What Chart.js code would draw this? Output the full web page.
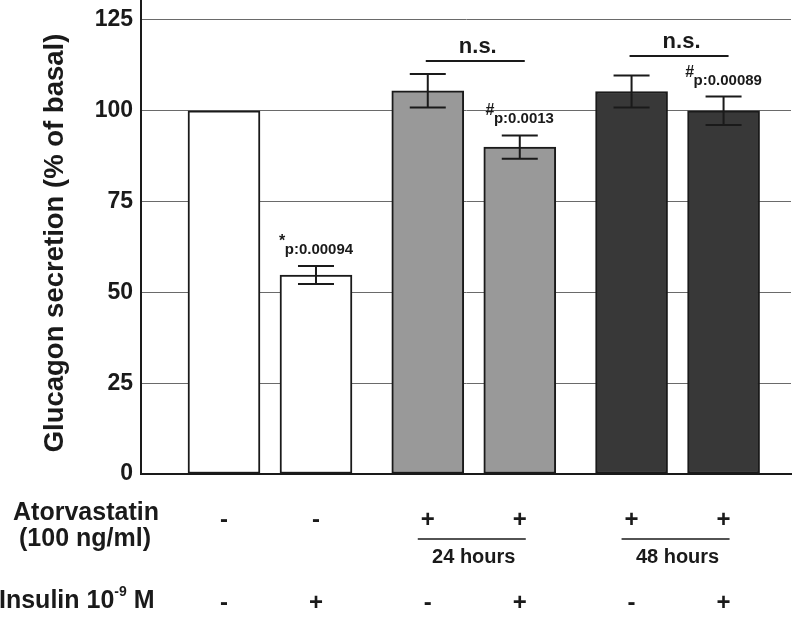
<!DOCTYPE html>
<html>
<head>
<meta charset="utf-8">
<script src="https://cdn.jsdelivr.net/npm/chart.js@4"></script>
<style>
  html, body { margin: 0; padding: 0; background: #ffffff; }
  #wrap { width: 793px; height: 618px; position: relative; }
</style>
</head>
<body>
<div id="wrap"><canvas id="c" width="793" height="618"></canvas></div>
<script>
// ---- data ----
const categories = ['basal', 'insulin', 'atorva 24h', 'atorva 24h + insulin', 'atorva 48h', 'atorva 48h + insulin'];
const groupIndex = [0, 0, 1, 1, 2, 2];
const secretion = [100, 54.8, 105.5, 90, 105.3, 100];
const sem = [0, 2.5, 4.6, 3.2, 4.4, 3.9];
const pSymbols = ['', '*', '', '#', '', '#'];
const pTexts = ['', 'p:0.00094', '', 'p:0.0013', '', 'p:0.00089'];
const nsPairs = [[2, 3], [4, 5]];
const nsLevels = [113.7, 115.1];
const atorvastatinSigns = ['-', '-', '+', '+', '+', '+'];
const insulinSigns = ['-', '+', '-', '+', '-', '+'];
const durationLabels = ['24 hours', '48 hours'];
const durationGroups = [[2, 3], [4, 5]];
const yTicks = [0, 25, 50, 75, 100, 125];
const yTitle = 'Glucagon secretion (% of basal)';

// ---- styles ----
const FONT = "'Liberation Sans', Arial, Helvetica, sans-serif";
const INK = '#1a1a1a';
const fills = ['#ffffff', '#ffffff', '#999999', '#999999', '#383838', '#383838'];
const GROUP_GAP = 0.215;
const positions = categories.map((c, i) => i + groupIndex[i] * GROUP_GAP);

const overlay = {
  id: 'overlay',
  afterDatasetsDraw(chart) {
    const ctx = chart.ctx;
    const xs = chart.scales.x, ys = chart.scales.y;
    const px = i => xs.getPixelForValue(positions[i]);
    ctx.save();
    ctx.strokeStyle = INK;
    ctx.fillStyle = INK;
    ctx.lineWidth = 2;
    // error bars
    secretion.forEach((v, i) => {
      if (!sem[i]) return;
      const x = px(i);
      const t = ys.getPixelForValue(v + sem[i]);
      const b = ys.getPixelForValue(v - sem[i]);
      ctx.beginPath();
      ctx.moveTo(x, t); ctx.lineTo(x, b);
      ctx.moveTo(x - 18, t); ctx.lineTo(x + 18, t);
      ctx.moveTo(x - 18, b); ctx.lineTo(x + 18, b);
      ctx.stroke();
    });
    // p-value labels
    ctx.textBaseline = 'alphabetic';
    pTexts.forEach((txt, i) => {
      if (!txt) return;
      const x = px(i);
      const capTop = ys.getPixelForValue(secretion[i] + sem[i]);
      const base = capTop - 12;
      ctx.font = 'bold 15px ' + FONT;
      const sw = ctx.measureText(pSymbols[i]).width;
      const tw = ctx.measureText(txt).width;
      const x0 = x - (sw + tw) / 2;
      ctx.textAlign = 'left';
      ctx.font = 'bold 16px ' + FONT;
      ctx.fillText(pSymbols[i], x0, base - 8);
      ctx.font = 'bold 15px ' + FONT;
      ctx.fillText(txt, x0 + sw, base);
    });
    // n.s. brackets
    nsPairs.forEach((pr, k) => {
      const a = px(pr[0]), b = px(pr[1]);
      const y = ys.getPixelForValue(nsLevels[k]);
      ctx.lineWidth = 2;
      ctx.beginPath();
      ctx.moveTo(a - 2, y); ctx.lineTo(b + 5, y);
      ctx.stroke();
      ctx.font = 'bold 22px ' + FONT;
      ctx.textAlign = 'center';
      ctx.fillText('n.s.', (a + b) / 2 + 4, y - 8);
    });
    ctx.restore();
  },
  afterDraw(chart) {
    const ctx = chart.ctx;
    const xs = chart.scales.x, ys = chart.scales.y;
    const px = i => xs.getPixelForValue(positions[i]);
    ctx.save();
    ctx.fillStyle = INK;
    ctx.strokeStyle = INK;
    // y axis title
    ctx.save();
    ctx.translate(55, (ys.top + ys.bottom) / 2 + 6);
    ctx.rotate(-Math.PI / 2);
    ctx.font = 'bold 27.5px ' + FONT;
    ctx.textAlign = 'center';
    ctx.textBaseline = 'middle';
    ctx.fillText(yTitle, 0, 0);
    ctx.restore();
    // row labels
    ctx.font = 'bold 25px ' + FONT;
    ctx.textAlign = 'center';
    ctx.textBaseline = 'alphabetic';
    ctx.fillText('Atorvastatin', 86, 520);
    ctx.fillText('(100 ng/ml)', 85, 546);
    ctx.textAlign = 'left';
    let x = -1;
    const parts = [['Insulin 10', 25, 0], ['-9', 14, -12], [' M', 25, 0]];
    parts.forEach(p => {
      ctx.font = 'bold ' + p[1] + 'px ' + FONT;
      ctx.fillText(p[0], x, 608 + p[2]);
      x += ctx.measureText(p[0]).width;
    });
    // signs
    ctx.font = 'bold 24px ' + FONT;
    ctx.textAlign = 'center';
    ctx.textBaseline = 'middle';
    atorvastatinSigns.forEach((s, i) => ctx.fillText(s, px(i), 520));
    insulinSigns.forEach((s, i) => ctx.fillText(s, px(i), 603));
    // duration brackets
    ctx.textBaseline = 'alphabetic';
    durationGroups.forEach((g, k) => {
      const a = px(g[0]), b = px(g[1]);
      ctx.lineWidth = 1.5;
      ctx.beginPath();
      ctx.moveTo(a - 10, 539); ctx.lineTo(b + 6, 539);
      ctx.stroke();
      ctx.font = 'bold 20px ' + FONT;
      ctx.fillText(durationLabels[k], (a + b) / 2, 563);
    });
    ctx.restore();
  }
};

new Chart(document.getElementById('c'), {
  type: 'bar',
  data: {
    datasets: [{
      data: secretion.map((v, i) => ({ x: positions[i], y: v })),
      backgroundColor: fills,
      borderColor: INK,
      borderWidth: 2,
      borderSkipped: false,
      barThickness: 72
    }]
  },
  options: {
    responsive: false,
    animation: false,
    devicePixelRatio: 1,
    layout: { padding: { top: 0, right: 2, bottom: 0, left: 0 } },
    plugins: { legend: { display: false }, tooltip: { enabled: false } },
    scales: {
      x: {
        type: 'linear',
        offset: false,
        min: -0.902,
        max: 6.163,
        grid: { display: false, drawTicks: false },
        border: { display: true, color: INK, width: 2 },
        ticks: { display: false },
        afterFit(scale) {
          scale.height = 144;
          scale.paddingLeft = 0; scale.paddingRight = 0;
        }
      },
      y: {
        min: 0,
        max: 130.5,
        afterBuildTicks(scale) { scale.ticks = yTicks.map(v => ({ value: v })); },
        grid: { color: '#6a6a6a', lineWidth: 1, drawTicks: false },
        border: { display: true, color: INK, width: 2 },
        ticks: {
          color: INK,
          padding: 8,
          font: { family: FONT, size: 23, weight: 'bold' }
        },
        title: { display: false },
        afterFit(scale) {
          scale.width = 141;
          scale.paddingTop = 0; scale.paddingBottom = 0;
        }
      }
    }
  },
  plugins: [overlay]
});
</script>
</body>
</html>
